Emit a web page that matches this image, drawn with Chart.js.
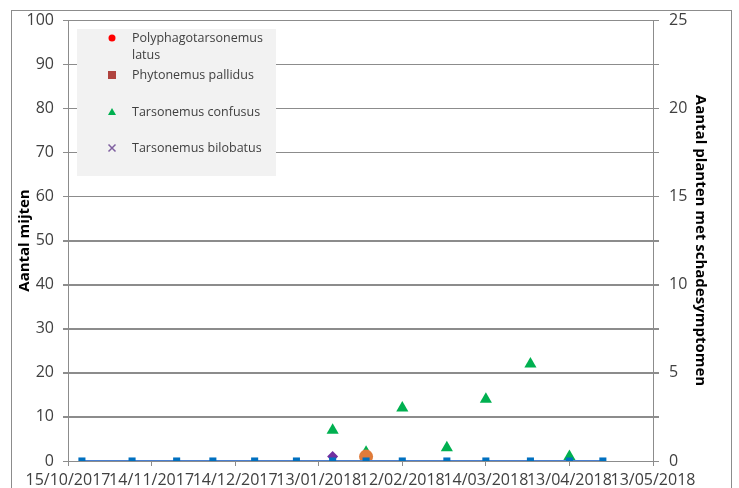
<!DOCTYPE html>
<html>
<head>
<meta charset="utf-8">
<script src="https://cdn.jsdelivr.net/npm/chart.js@4/dist/chart.umd.min.js"></script>
<style>
  html, body { margin: 0; padding: 0; background: #fff; overflow: hidden; }
  #wrap { position: relative; width: 739px; height: 488px; }
  #frame { position: absolute; left: 11px; top: 10px; width: 719px; height: 500px; border: 1px solid #8c8c8c; }
  canvas { position: absolute; left: 0; top: 0; }
</style>
</head>
<body>
<div id="wrap">
  <div id="frame"></div>
  <canvas id="scatterChart"></canvas>
</div>
<script>
// sample dates (dd/mm/yyyy)
var sampleDates = ['20/10/2017', '07/11/2017', '23/11/2017', '06/12/2017', '21/12/2017', '05/01/2018', '18/01/2018',
                   '30/01/2018', '12/02/2018', '28/02/2018', '14/03/2018', '30/03/2018', '13/04/2018', '25/04/2018'];
// Aantal planten met schadesymptomen (right axis)
var schadeValues = [0, 0, 0, 0, 0, 0, 0, 0, 0, 0, 0, 0, 0, 0];

// Tarsonemus confusus
var confususDates = ['18/01/2018', '30/01/2018', '12/02/2018', '28/02/2018', '14/03/2018', '30/03/2018', '13/04/2018'];
var confususValues = [7, 2, 12, 3, 14, 22, 1];

// extra series without a legend entry
var paarsDates = ['18/01/2018'];
var paarsValues = [1];
var oranjeDates = ['30/01/2018'];
var oranjeValues = [1];

// series shown in legend but with no visible points
var latusDates = [];
var latusValues = [];
var pallidusDates = [];
var pallidusValues = [];
var bilobatusDates = [];
var bilobatusValues = [];

// x axis: days since 15/10/2017, one tick every 30 days
var xStart = Date.UTC(2017, 9, 15);
var xMin = 0, xMax = 210, xStep = 30;
var yLeftTicks = [0, 100, 10];
var yRightTicks = [0, 25, 5];

function toDay(s) {
    var p = s.split('/');
    return Math.round((Date.UTC(+p[2], +p[1] - 1, +p[0]) - xStart) / 86400000);
}
function fmtDay(v) {
    var d = new Date(xStart + v * 86400000);
    var dd = String(d.getUTCDate()).padStart(2, '0');
    var mm = String(d.getUTCMonth() + 1).padStart(2, '0');
    return dd + '/' + mm + '/' + d.getUTCFullYear();
}
function pts(dates, vals) {
    var out = [];
    for (var i = 0; i < dates.length; i++) {
        out.push({x: toDay(dates[i]), y: vals[i]});
    }
    return out;
}

var grijs = '#8c8c8c';
var tickFont = {family: 'Open Sans', size: 16};

// horizontal grid lines + legend box inside the plot area, drawn before the points
var boxLegend = {
    id: 'boxLegend',
    beforeDatasetsDraw: function (chart) {
        var ctx = chart.ctx;
        var area = chart.chartArea;
        var ys = chart.scales.y;
        ctx.save();
        ctx.strokeStyle = grijs;
        ctx.lineWidth = 1;
        ys.ticks.forEach(function (t) {
            var py = Math.round(ys.getPixelForValue(t.value)) + 0.5;
            ctx.beginPath();
            ctx.moveTo(area.left - 5, py);
            ctx.lineTo(area.right + 6, py);
            ctx.stroke();
        });

        ctx.fillStyle = '#f2f2f2';
        ctx.fillRect(77, 29, 199, 147);
        ctx.font = '12.5px "Open Sans"';
        ctx.textBaseline = 'middle';
        var rows = [38, 75, 112, 148];
        var items = chart.data.datasets.filter(function (d) { return d.inLegend; });
        for (var i = 0; i < items.length; i++) {
            var d = items[i];
            var y = rows[i], x = 112;
            ctx.fillStyle = d.legendColor;
            ctx.strokeStyle = d.legendColor;
            if (d.pointStyle == 'circle') {
                ctx.beginPath(); ctx.arc(x, y, 3.5, 0, Math.PI * 2); ctx.fill();
            } else if (d.pointStyle == 'rect') {
                ctx.fillRect(x - 4, y - 4, 8, 8);
            } else if (d.pointStyle == 'triangle') {
                ctx.beginPath(); ctx.moveTo(x, y - 4); ctx.lineTo(x + 4, y + 3); ctx.lineTo(x - 4, y + 3); ctx.closePath(); ctx.fill();
            } else if (d.pointStyle == 'cross') {
                ctx.lineWidth = 1.5;
                ctx.beginPath(); ctx.moveTo(x - 3.5, y - 3.5); ctx.lineTo(x + 3.5, y + 3.5);
                ctx.moveTo(x + 3.5, y - 3.5); ctx.lineTo(x - 3.5, y + 3.5); ctx.stroke();
            }
            ctx.fillStyle = '#404040';
            var lines = d.legendLines || [d.label];
            for (var j = 0; j < lines.length; j++) {
                ctx.fillText(lines[j], 132, y + j * 17);
            }
        }
        ctx.restore();
    }
};

var chartData = {
    datasets: [
        {
            label: 'Aantal planten met schadesymptomen',
            data: pts(sampleDates, schadeValues),
            yAxisID: 'y1',
            showLine: true,
            borderColor: '#4a7fd0',
            borderWidth: 2,
            backgroundColor: '#0070c0',
            pointStyle: 'rect',
            pointRadius: 5,
            pointBorderWidth: 0,
            order: 0
        },
        {
            label: 'Overig oranje',
            data: pts(oranjeDates, oranjeValues),
            yAxisID: 'y',
            backgroundColor: '#e07b39',
            pointStyle: 'circle',
            pointRadius: 7,
            pointBorderWidth: 0,
            order: 1
        },
        {
            label: 'Overig paars',
            data: pts(paarsDates, paarsValues),
            yAxisID: 'y',
            backgroundColor: '#7030a0',
            pointStyle: 'rectRot',
            pointRadius: 5.5,
            pointBorderWidth: 0,
            order: 2
        },
        {
            label: 'Polyphagotarsonemus latus',
            legendLines: ['Polyphagotarsonemus', 'latus'],
            data: pts(latusDates, latusValues),
            yAxisID: 'y',
            inLegend: true,
            legendColor: '#ff0000',
            backgroundColor: '#ff0000',
            pointStyle: 'circle',
            pointRadius: 4,
            order: 4
        },
        {
            label: 'Phytonemus pallidus',
            data: pts(pallidusDates, pallidusValues),
            yAxisID: 'y',
            inLegend: true,
            legendColor: '#b0433f',
            backgroundColor: '#b0433f',
            pointStyle: 'rect',
            pointRadius: 4,
            order: 5
        },
        {
            label: 'Tarsonemus confusus',
            data: pts(confususDates, confususValues),
            yAxisID: 'y',
            inLegend: true,
            legendColor: '#00b050',
            backgroundColor: '#00b050',
            pointStyle: 'triangle',
            pointRadius: 7,
            pointBorderWidth: 0,
            order: 3
        },
        {
            label: 'Tarsonemus bilobatus',
            data: pts(bilobatusDates, bilobatusValues),
            yAxisID: 'y',
            inLegend: true,
            legendColor: '#7f60a0',
            borderColor: '#7f60a0',
            pointStyle: 'cross',
            pointRadius: 4,
            order: 6
        }
    ]
};

var chartOptions = {
    responsive: true,
    maintainAspectRatio: false,
    animation: false,
    layout: {padding: {top: 20, left: 0, right: 0, bottom: 0}},
    plugins: {legend: {display: false}, tooltip: {enabled: false}},
    scales: {
        x: {
            type: 'linear',
            min: xMin, max: xMax,
            afterFit: function (s) { s.height = 27; },
            afterBuildTicks: function (s) {
                s.ticks = [];
                for (var v = xMin; v <= xMax; v += xStep) s.ticks.push({value: v});
            },
            ticks: {
                callback: function (v) { return fmtDay(v); },
                autoSkip: false, maxRotation: 0, minRotation: 0,
                color: '#404040', font: tickFont, padding: 5
            },
            grid: {drawOnChartArea: false, color: grijs, tickLength: 5},
            border: {display: true, color: grijs}
        },
        y: {
            position: 'left',
            min: yLeftTicks[0], max: yLeftTicks[1],
            afterFit: function (s) { s.width = 68; },
            ticks: {stepSize: yLeftTicks[2], color: '#404040', font: tickFont, padding: 9},
            grid: {color: grijs, tickLength: 5},
            border: {display: true, color: grijs},
            title: {display: true, text: 'Aantal mijten', color: '#000',
                    font: {family: 'Open Sans', size: 15, weight: 'bold'}, padding: {top: 16, bottom: 0}}
        },
        y1: {
            position: 'right',
            min: yRightTicks[0], max: yRightTicks[1],
            afterFit: function (s) { s.width = 86; },
            ticks: {
                stepSize: yRightTicks[2] / 2,
                callback: function (v) { return v % yRightTicks[2] === 0 ? v : ''; },
                color: '#404040', font: tickFont, padding: 10
            },
            grid: {drawOnChartArea: false, color: grijs, tickLength: 6},
            border: {display: true, color: grijs},
            title: {display: true, text: 'Aantal planten met schadesymptomen', color: '#000',
                    font: {family: 'Open Sans', size: 15, weight: 'bold'}, padding: {top: 30, bottom: 0}}
        }
    }
};

var canvas = document.getElementById('scatterChart');
var scatterChart = new Chart(canvas.getContext('2d'), {
    type: 'scatter',
    data: chartData,
    options: chartOptions,
    plugins: [boxLegend]
});
</script>
</body>
</html>
